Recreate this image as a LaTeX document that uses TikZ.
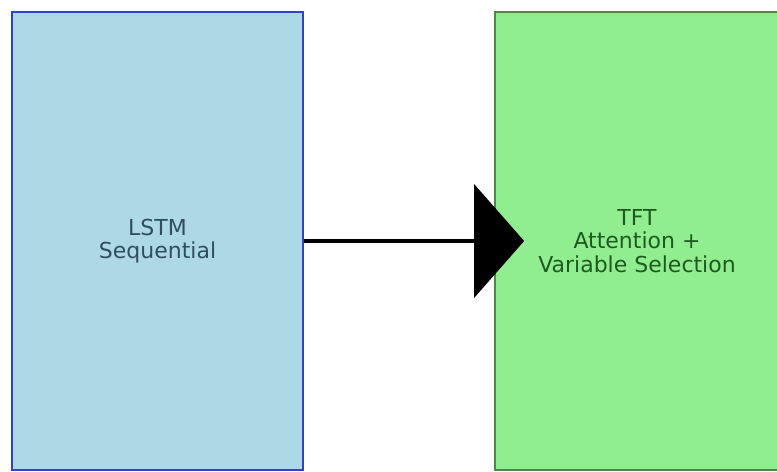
\documentclass[tikz,border=0pt]{standalone}
\usepackage{fontspec}
\setmainfont{DejaVu Sans}
\usepackage{xcolor}
\usepackage{tikz}
\usetikzlibrary{arrows.meta,positioning}

\definecolor{lstmfill}{HTML}{ADD8E6}
\definecolor{lstmdraw}{HTML}{3340C8}
\definecolor{lstmtext}{HTML}{2F4F5F}
\definecolor{tftfill}{HTML}{90EE90}
\definecolor{tftdraw}{HTML}{4A8A4A}
\definecolor{tfttext}{HTML}{1E5A1E}

\begin{document}
\begin{tikzpicture}[
                x=0.75pt, y=-0.75pt,
                font=\fontsize{16.5}{17.5}\selectfont,
                model/.style={draw, line width=1.3pt, align=center, inner sep=0pt, minimum height=343.5pt},
                flow/.style={-{Triangle[length=37.5pt, width=85pt]}, line width=2.3pt, shorten >=-22.5pt}
            ]
            \useasboundingbox (0,0) rectangle (777,471);
            \node[model, fill=lstmfill, draw=lstmdraw, text=lstmtext, minimum width=218.25pt] (lstm) at (157.5,241) {LSTM\\Sequential};
            \node[model, fill=tftfill, draw=tftdraw, text=tfttext, minimum width=213pt] (tft) at (637,241) {TFT\\Attention +\\Variable Selection};
            \draw[flow] (lstm.east) -- (tft.west);
        \end{tikzpicture}
\end{document}
